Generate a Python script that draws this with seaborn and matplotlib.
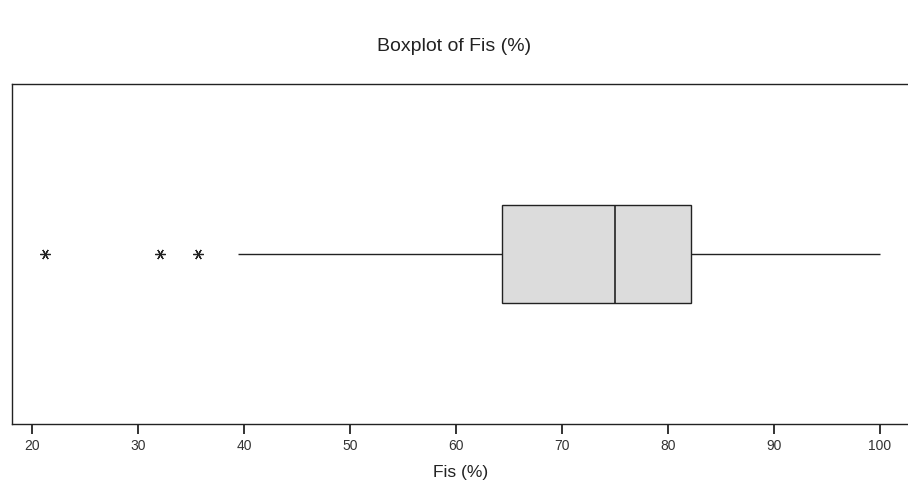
import matplotlib
matplotlib.use("Agg")
import matplotlib.pyplot as plt
import pandas as pd
import seaborn as sns

fis_values = [21.2, 32.1, 35.7, 39.4, 52.3, 64.3, 66.9, 69.5, 71.2, 73.0, 75.0,
              76.4, 78.0, 79.3, 80.6, 82.2, 85.0, 88.3, 91.7, 95.4, 100.0]
x_ticks = [20, 30, 40, 50, 60, 70, 80, 90, 100]

sns.set_theme(style="white")
plt.rcParams["font.family"] = ["Liberation Sans", "DejaVu Sans"]

df = pd.DataFrame({"Fis (%)": fis_values})

fig = plt.figure(figsize=(9.08, 4.9), dpi=100)
left_px, right_px, top_px, bottom_px = 11.7, 909.0, 84.0, 424.0
ax = fig.add_axes([left_px / 908, 1 - bottom_px / 490,
                   (right_px - left_px) / 908, (bottom_px - top_px) / 490])

sns.boxplot(
    data=df, x="Fis (%)", orient="h", ax=ax, width=0.29,
    color="#dcdcdc", linecolor="#222222", linewidth=1.0,
    whis=1.5, showcaps=False,
    boxprops={"facecolor": "#dcdcdc", "edgecolor": "#222222"},
    medianprops={"color": "#222222", "linewidth": 1.2},
    flierprops={"marker": (6, 2, 90), "markersize": 7.5, "markeredgecolor": "#222222",
                "markeredgewidth": 0.9},
)

px_per_unit = (880 - 32) / 80
ax.set_xlim(20 - (32 - left_px) / px_per_unit, 20 + (right_px - 32) / px_per_unit)
ax.set_ylim(0.5, -0.5)
ax.set_xticks(x_ticks)
ax.set_xticklabels([str(t) for t in x_ticks], fontsize=10, color="#333333")
ax.tick_params(axis="x", bottom=True, length=7.5, width=1.2, color="#111111",
               direction="out", pad=3)
ax.set_yticks([])
ax.set_ylabel("")
ax.set_xlabel("Fis (%)", fontsize=12.5, color="#222222", labelpad=9)
for side in ax.spines.values():
    side.set_color("#222222")
    side.set_linewidth(1.0)

fig.suptitle("Boxplot of Fis (%)", fontsize=14, color="#222222", y=1 - 38 / 490)

fig.savefig("out.png", dpi=100)
plt.close(fig)
